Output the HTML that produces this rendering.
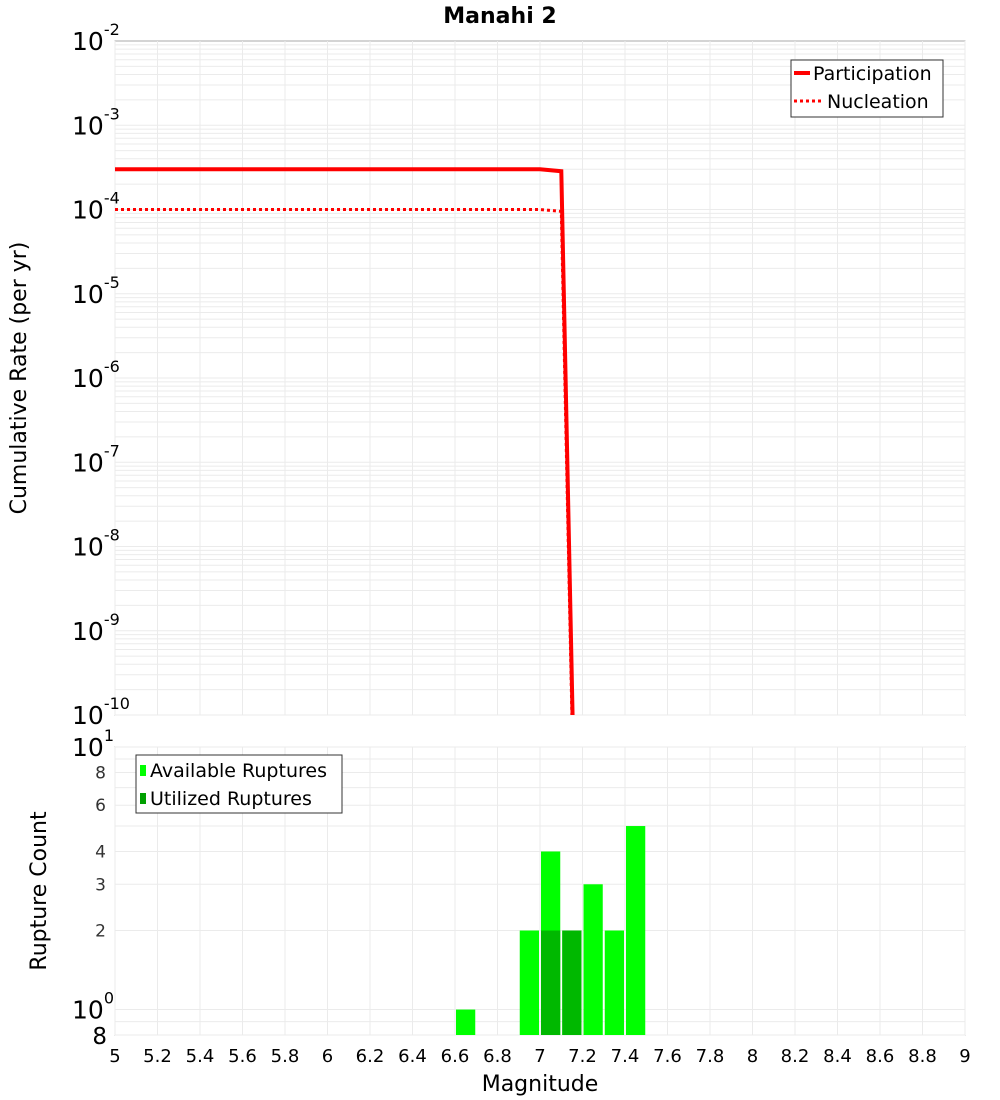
<!DOCTYPE html>
<html><head><meta charset="utf-8"><style>
html,body{margin:0;background:#fff;overflow:hidden;width:1000px;height:1100px}
svg{display:block}
svg text{font-family:"DejaVu Sans","Liberation Sans",sans-serif}
</style></head><body>
<svg id="c" width="1000" height="1100" xmlns="http://www.w3.org/2000/svg">
<text x="500" y="23" text-anchor="middle" font-size="22" font-weight="bold">Manahi 2</text>
<text transform="translate(26,378) rotate(-90)" text-anchor="middle" font-size="22">Cumulative Rate (per yr)</text>
<text transform="translate(46,891) rotate(-90)" text-anchor="middle" font-size="22">Rupture Count</text>
<text x="540" y="1091" text-anchor="middle" font-size="22">Magnitude</text>
<g id="g"></g>
</svg>
<script>
const mags=[5.0,5.5,6.0,6.5,7.0,7.1,7.2];
const participation=[3e-4,3e-4,3e-4,3e-4,3e-4,2.85e-4,2e-16];
const nucleation=[1e-4,1e-4,1e-4,1e-4,1e-4,9.5e-5,1e-16];
const binCenters=[6.65,6.95,7.05,7.15,7.25,7.35,7.45];
const available=[1,2,4,2,3,2,5];
const utilized=[0,0,2,2,0,0,0];
const xTicks=[5,5.2,5.4,5.6,5.8,6,6.2,6.4,6.6,6.8,7,7.2,7.4,7.6,7.8,8,8.2,8.4,8.6,8.8,9];
const topDecades=[-2,-3,-4,-5,-6,-7,-8,-9,-10];
const botTicks=[2,3,4,6,8];

const NS="http://www.w3.org/2000/svg",G=document.getElementById('g');
function el(t,a,p){const e=document.createElementNS(NS,t);for(const k in a)e.setAttribute(k,a[k]);(p||G).appendChild(e);return e;}
const L=115,R=965,T1=41,B1=715,T2=747,B2=1035;
const x=m=>L+(m-5)/4*(R-L);
const y1=v=>T1+(-2-Math.log10(v))/8*(B1-T1);
const y2=v=>T2+(1-Math.log10(v))/(1-Math.log10(0.8))*(B2-T2);
let f=el('rect',{x:L,y:T1,width:R-L,height:B1-T1,fill:'#fff',stroke:'#aaa'});

f=el('rect',{x:L,y:T2,width:R-L,height:B2-T2,fill:'#fff',stroke:'#aaa'});

for(const t of xTicks){const gx=x(t);
 let l=el('line',{x1:gx,x2:gx,y1:T1,y2:B1,stroke:'#ebebeb'});
 l=el('line',{x1:gx,x2:gx,y1:T2,y2:B2,stroke:'#ebebeb'});
 const tx=el('text',{x:gx,y:1062,'text-anchor':'middle','font-size':18});tx.textContent=String(t);
 }
for(let d=-10;d<-2;d++)for(let k=1;k<10;k++){const gy=y1(k*Math.pow(10,d));
 const l=el('line',{x1:L,x2:R,y1:gy,y2:gy,stroke:'#ebebeb'});}
for(const d of topDecades){const gy=y1(Math.pow(10,d));
 const t=el('text',{x:72,y:gy+9,'font-size':25});t.textContent='10';
 
 const s=el('tspan',{dy:-15,'font-size':16},t);s.textContent=String(d);}
for(const v of [0.8,0.9,1,2,3,4,5,6,7,8,9,10]){const gy=y2(v);
 const l=el('line',{x1:L,x2:R,y1:gy,y2:gy,stroke:'#ebebeb'});}
for(const v of botTicks){const t=el('text',{x:106,y:y2(v)+6,'text-anchor':'end','font-size':17,fill:'#333'});t.textContent=String(v);
 }
[[10,'1'],[1,'0']].forEach(([v,e])=>{const t=el('text',{x:72,y:y2(v)+9,'font-size':25});t.textContent='10';
 
 const s=el('tspan',{dy:-15,'font-size':16},t);s.textContent=e;});
let t8=el('text',{x:107,y:y2(0.8)+9,'text-anchor':'end','font-size':23});t8.textContent='8';

const cp=el('clipPath',{id:'cp1'});el('rect',{x:L,y:T1,width:R-L,height:B1-T1},cp);
function path(arr){return arr.map((v,i)=>(i?'L':'M')+x(mags[i]).toFixed(1)+','+y1(v).toFixed(1)).join(' ');}
let p=el('path',{d:path(participation),fill:'none',stroke:'#f00','stroke-width':4,'clip-path':'url(#cp1)'});

p=el('path',{d:path(nucleation),fill:'none',stroke:'#f00','stroke-width':3,'stroke-dasharray':'3,3','clip-path':'url(#cp1)'});

const bw=(x(5.1)-x(5))-2;
binCenters.forEach((c,i)=>{if(available[i]>0){const yy=y2(available[i]);
 const b=el('rect',{x:x(c)-bw/2,y:yy,width:bw,height:B2-yy,fill:'#00ff00'});
 }
 if(utilized[i]>0){const yy=y2(utilized[i]);
 const b=el('rect',{x:x(c)-bw/2,y:yy,width:bw,height:B2-yy,fill:'#00b800'});
 }});
let lg=el('g',{});
el('rect',{x:791,y:60,width:152,height:57,fill:'#fff',stroke:'#333'},lg);
el('line',{x1:794,x2:810,y1:73,y2:73,stroke:'#f00','stroke-width':4},lg);
el('line',{x1:794,x2:822,y1:101,y2:101,stroke:'#f00','stroke-width':3,'stroke-dasharray':'3,3'},lg);
let tt=el('text',{x:813,y:80,'font-size':19},lg);tt.textContent='Participation';
tt=el('text',{x:827,y:108,'font-size':19},lg);tt.textContent='Nucleation';
lg=el('g',{});
el('rect',{x:136,y:755,width:206,height:58,fill:'#fff',stroke:'#333'},lg);
el('rect',{x:140,y:765,width:6,height:11,fill:'#00ff00'},lg);
el('rect',{x:140,y:793,width:6,height:11,fill:'#00a000'},lg);
tt=el('text',{x:150,y:777,'font-size':19},lg);tt.textContent='Available Ruptures';
tt=el('text',{x:150,y:805,'font-size':19},lg);tt.textContent='Utilized Ruptures';
</script>
</body></html>
